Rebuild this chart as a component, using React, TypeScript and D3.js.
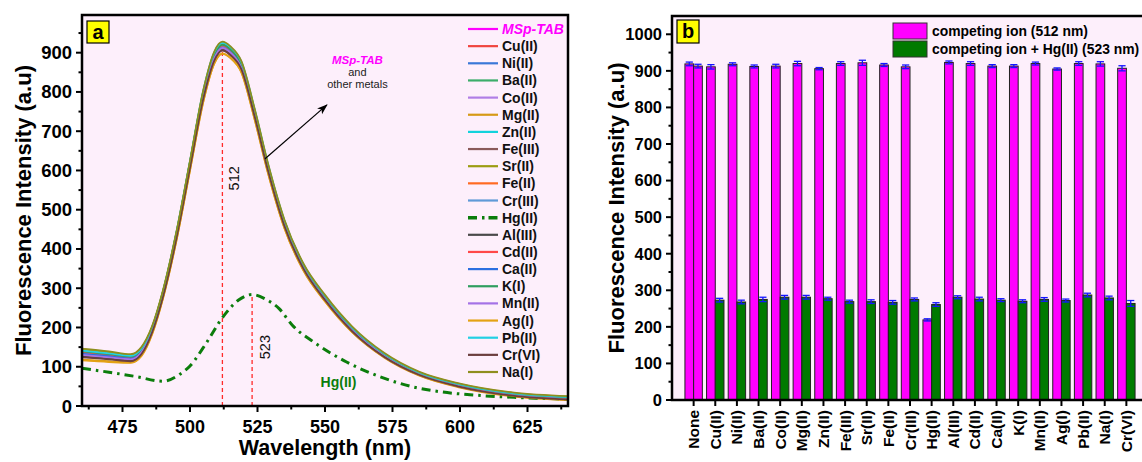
import React from 'react';
import * as d3 from 'd3';

// ---------- Panel (a): fluorescence spectra ----------
const wavelengths = [460, 470, 478, 482, 486, 490, 495, 500, 505, 509, 512, 515, 519, 524, 529, 535, 542, 550, 560, 572, 585, 600, 620, 640];
const mspTab = [136, 129, 123, 141, 197, 287, 437, 617, 797, 892, 918, 906, 869, 746, 606, 466, 356, 276, 196, 129, 81, 51, 28, 19];
const cuII = [132, 126, 120, 138, 193, 283, 433, 613, 792, 886, 912, 900, 862, 740, 600, 461, 352, 272, 193, 127, 80, 50, 27, 18];
const niII = [138, 131, 125, 143, 198, 288, 438, 618, 798, 890, 915, 903, 866, 744, 604, 465, 356, 276, 197, 130, 82, 52, 29, 20];
const baII = [140, 133, 127, 145, 200, 291, 441, 621, 802, 896, 922, 910, 872, 750, 609, 469, 359, 279, 199, 131, 83, 53, 30, 21];
const coII = [128, 122, 117, 135, 190, 281, 431, 611, 790, 884, 910, 898, 861, 739, 599, 460, 351, 271, 192, 126, 79, 49, 26, 17];
const mgII = [118, 114, 111, 129, 185, 275, 423, 600, 777, 872, 897, 886, 850, 728, 590, 452, 345, 266, 188, 123, 77, 47, 24, 15];
const znII = [142, 135, 128, 146, 201, 292, 443, 623, 805, 900, 925, 913, 876, 753, 612, 471, 360, 280, 200, 132, 84, 54, 31, 22];
const feIII = [125, 120, 115, 133, 189, 279, 429, 608, 786, 880, 905, 893, 857, 735, 596, 458, 350, 270, 191, 125, 79, 49, 26, 17];
const srII = [144, 137, 130, 148, 202, 293, 442, 622, 801, 895, 920, 908, 871, 749, 608, 468, 359, 279, 199, 132, 85, 56, 33, 24];
const feII = [127, 121, 116, 134, 191, 281, 430, 610, 788, 882, 908, 896, 859, 737, 598, 459, 350, 271, 192, 126, 79, 49, 26, 17];
const crIII = [134, 127, 121, 139, 195, 286, 436, 616, 795, 890, 915, 903, 866, 744, 604, 464, 355, 275, 195, 128, 81, 51, 28, 19];
const alIII = [126, 121, 116, 134, 191, 282, 432, 612, 791, 885, 910, 898, 861, 739, 600, 460, 352, 272, 193, 127, 80, 50, 27, 18];
const cdII = [137, 130, 124, 142, 197, 288, 438, 618, 797, 892, 918, 906, 869, 746, 606, 466, 356, 276, 196, 129, 81, 51, 28, 19];
const caII = [133, 127, 121, 139, 194, 285, 435, 615, 793, 887, 913, 901, 864, 742, 602, 463, 354, 274, 194, 128, 80, 50, 27, 18];
const kI = [139, 132, 126, 144, 199, 290, 440, 620, 800, 894, 920, 908, 870, 748, 607, 467, 358, 278, 198, 131, 83, 53, 30, 21];
const mnII = [130, 124, 119, 137, 192, 284, 434, 613, 792, 886, 912, 900, 862, 740, 600, 461, 352, 272, 193, 127, 80, 50, 27, 18];
const agI = [116, 112, 110, 127, 183, 274, 422, 601, 778, 873, 898, 887, 851, 729, 591, 453, 346, 267, 189, 124, 78, 48, 25, 16];
const pbII = [141, 134, 128, 146, 201, 292, 443, 623, 805, 901, 926, 914, 877, 754, 613, 472, 361, 281, 201, 133, 85, 55, 32, 23];
const crVI = [124, 119, 114, 132, 188, 278, 428, 607, 785, 880, 906, 894, 858, 736, 597, 458, 350, 270, 191, 125, 79, 49, 26, 17];
const naI = [146, 139, 132, 150, 204, 295, 445, 625, 807, 903, 928, 916, 879, 756, 615, 474, 363, 283, 203, 135, 87, 57, 34, 25];

const hgWavelengths = [460, 470, 480, 490, 496, 500, 506, 512, 518, 523, 528, 533, 538, 546, 558, 571, 583, 593, 605, 620, 640];
const hgII = [96, 86, 75, 63, 80, 102, 160, 225, 270, 284, 272, 248, 205, 162, 112, 73, 48, 36, 28, 22, 18];

const spectraLabels = ['MSp-TAB', 'Cu(II)', 'Ni(II)', 'Ba(II)', 'Co(II)', 'Mg(II)', 'Zn(II)', 'Fe(III)', 'Sr(II)', 'Fe(II)', 'Cr(III)', 'Hg(II)', 'Al(III)', 'Cd(II)', 'Ca(II)', 'K(I)', 'Mn(II)', 'Ag(I)', 'Pb(II)', 'Cr(VI)', 'Na(I)'];
const spectraValues = [mspTab, cuII, niII, baII, coII, mgII, znII, feIII, srII, feII, crIII, hgII, alIII, cdII, caII, kI, mnII, agI, pbII, crVI, naI];
const spectraColors = ['#ff00ff', '#f0453f', '#3a78d8', '#3cad6a', '#b07ee6', '#d69a16', '#12d2dc', '#8a5a5a', '#9c9c12', '#ff6a22', '#5f9ad8', '#0b7d0b', '#4a4a4a', '#ff4848', '#2c6fe0', '#2f9e5f', '#a472e6', '#e4a214', '#22d0e4', '#6b3e3e', '#8e8e1e'];

const peakWavelength = 512;
const hgPeakWavelength = 523;

// ---------- Panel (b): competing ions ----------
const ionCategories = ['None', 'Cu(II)', 'Ni(II)', 'Ba(II)', 'Co(II)', 'Mg(II)', 'Zn(II)', 'Fe(III)', 'Sr(II)', 'Fe(II)', 'Cr(III)', 'Hg(II)', 'Al(III)', 'Cd(II)', 'Ca(II)', 'K(I)', 'Mn(II)', 'Ag(I)', 'Pb(II)', 'Na(I)', 'Cr(VI)'];
const competingIon512 = [919, 911, 918, 912, 913, 920, 906, 920, 922, 916, 911, 219, 923, 920, 913, 913, 920, 905, 920, 919, 907];
const competingIonHg523 = [913, 273, 268, 275, 281, 281, 277, 269, 269, 267, 275, 261, 281, 276, 273, 270, 275, 272, 287, 279, 264];
const err512 = [5, 6, 4, 4, 5, 6, 3, 5, 7, 4, 5, 3, 4, 5, 4, 4, 4, 3, 5, 6, 7];
const errHg523 = [5, 5, 5, 6, 5, 5, 4, 4, 5, 5, 4, 5, 4, 5, 4, 4, 5, 4, 5, 5, 8];

const FONT = "'Liberation Sans', Arial, Helvetica, sans-serif";
const BG = '#fdeffb';

export default function App() {
  const W = 1142, H = 462;

  // Panel a geometry
  const A = { l: 82, r: 568, t: 15, b: 406 };
  const xA = d3.scaleLinear().domain([460, 640]).range([A.l, A.r]);
  const yA = d3.scaleLinear().domain([0, 996]).range([A.b, A.t]);
  const lineA = d3.line<[number, number]>()
    .x(d => xA(d[0]))
    .y(d => yA(d[1]))
    .curve(d3.curveMonotoneX);

  const series = spectraLabels.map((label, i) => {
    const isHg = label === 'Hg(II)';
    const xs = isHg ? hgWavelengths : wavelengths;
    const pts = xs.map((w, j) => [w, spectraValues[i][j]] as [number, number]);
    return { label, color: spectraColors[i], isHg, d: lineA(pts) || '' };
  });

  const mspPeak = d3.max(mspTab) as number;
  const hgPeak = d3.max(hgII) as number;

  const yTicksA = d3.range(0, 951, 50);
  const xTicksA = d3.range(462.5, 640, 12.5);

  // Panel b geometry
  const B = { l: 672, r: 1148, t: 16, b: 400 };
  const xB = d3.scaleLinear().domain([-1, ionCategories.length]).range([B.l, B.r]);
  const yB = d3.scaleLinear().domain([0, 1050]).range([B.b, B.t]);
  const barW = 8.7;
  const yTicksB = d3.range(0, 1050, 50);

  const legendRowA = (i: number) => 29 + i * 17.15;

  return (
    <svg width={W} height={H} viewBox={`0 0 ${W} ${H}`} style={{ position: 'absolute', left: 0, top: 0, background: '#fff' }} fontFamily={FONT}>
      <defs>
        <clipPath id="clipA"><rect x={A.l} y={A.t} width={A.r - A.l} height={A.b - A.t} /></clipPath>
        <marker id="arrowHead" viewBox="0 0 10 10" refX="9" refY="5" markerWidth="9" markerHeight="9" orient="auto">
          <path d="M0,1.5 L10,5 L0,8.5 L2.5,5 z" fill="#000" />
        </marker>
      </defs>

      {/* ================= Panel a ================= */}
      <rect x={A.l} y={A.t} width={A.r - A.l} height={A.b - A.t} fill={BG} />

      {/* reference dashed lines */}
      <line x1={xA(peakWavelength)} x2={xA(peakWavelength)} y1={yA(0)} y2={yA(mspPeak) + 4} stroke="#ff2a2a" strokeWidth={1.3} strokeDasharray="4,3" />
      <line x1={xA(hgPeakWavelength)} x2={xA(hgPeakWavelength)} y1={yA(0)} y2={yA(hgPeak)} stroke="#ff2a2a" strokeWidth={1.3} strokeDasharray="4,3" />

      <g clipPath="url(#clipA)">
        {series.map(s => (
          <path key={s.label} d={s.d} fill="none" stroke={s.color}
            strokeWidth={s.isHg ? 3 : 1.8}
            strokeDasharray={s.isHg ? '9,5,2.5,5' : undefined}
            strokeLinecap={s.isHg ? 'butt' : 'round'} />
        ))}
      </g>

      {/* annotations */}
      <text transform={`translate(${xA(peakWavelength) + 17},${yA(580)}) rotate(-90)`} textAnchor="middle" fontSize={14.5} fill="#111">512</text>
      <text transform={`translate(${xA(hgPeakWavelength) + 18},${yA(150)}) rotate(-90)`} textAnchor="middle" fontSize={14.5} fill="#111">523</text>
      <line x1={xA(527.8)} y1={yA(630)} x2={xA(550.7)} y2={yA(767)} stroke="#000" strokeWidth={1.2} markerEnd="url(#arrowHead)" />
      <text x={xA(562)} y={yA(882) + 4} textAnchor="middle" fontSize={11.5} fontWeight="bold" fontStyle="italic" fill="#ff00ff">MSp-TAB</text>
      <text x={xA(562)} y={yA(852) + 4} textAnchor="middle" fontSize={11} fill="#222">and</text>
      <text x={xA(562)} y={yA(820) + 4} textAnchor="middle" fontSize={11} fill="#222">other metals</text>
      <text x={xA(555)} y={yA(48)} textAnchor="middle" fontSize={14} fontWeight="bold" fill="#0b7d0b">Hg(II)</text>

      {/* legend a */}
      {series.map((s, i) => (
        <g key={'lg' + s.label}>
          <line x1={468} x2={498} y1={legendRowA(i)} y2={legendRowA(i)} stroke={s.color}
            strokeWidth={s.isHg ? 3.5 : 2.2} strokeDasharray={s.isHg ? '9,5,2.5,4' : undefined} />
          <text x={502} y={legendRowA(i) + 5} fontSize={14} fontWeight="bold"
            fontStyle={i === 0 ? 'italic' : 'normal'} fill={i === 0 ? '#ff00ff' : '#111'}>{s.label}</text>
        </g>
      ))}

      {/* frame a */}
      <rect x={A.l} y={A.t} width={A.r - A.l} height={A.b - A.t} fill="none" stroke="#000" strokeWidth={2.5} />

      {/* y axis a */}
      {yTicksA.map(v => {
        const major = v % 100 === 0;
        return (
          <g key={'ya' + v}>
            <line x1={A.l - (major ? 6 : 3.5)} x2={A.l} y1={yA(v)} y2={yA(v)} stroke="#000" strokeWidth={2} />
            {major && <text x={A.l - 10} y={yA(v) + 6.5} textAnchor="end" fontSize={18.5} fontWeight="bold" fill="#000">{v}</text>}
          </g>
        );
      })}
      {/* x axis a */}
      {xTicksA.map(v => {
        const major = v % 25 === 0;
        return (
          <g key={'xa' + v}>
            <line x1={xA(v)} x2={xA(v)} y1={A.b} y2={A.b + (major ? 6 : 3.5)} stroke="#000" strokeWidth={2} />
            {major && <text x={xA(v)} y={A.b + 26.5} textAnchor="middle" fontSize={18} fontWeight="bold" fill="#000">{v}</text>}
          </g>
        );
      })}
      <text x={(A.l + A.r) / 2} y={455} textAnchor="middle" fontSize={21.5} fontWeight="bold" fill="#000">Wavelength (nm)</text>
      <text transform={`translate(30.5,${(A.t + A.b) / 2}) rotate(-90)`} textAnchor="middle" fontSize={22} fontWeight="bold" fill="#000">Fluorescence Intensity (a.u)</text>

      {/* label box a */}
      <rect x={87} y={21} width={22} height={22} fill="#ffff00" stroke="#000" strokeWidth={1.2} />
      <text x={98} y={38.5} textAnchor="middle" fontSize={20} fontWeight="bold" fill="#000">a</text>

      {/* ================= Panel b ================= */}
      <rect x={B.l} y={B.t} width={B.r - B.l} height={B.b - B.t} fill={BG} />

      {ionCategories.map((c, i) => {
        const cx = xB(i);
        const v1 = competingIon512[i];
        const v2 = competingIonHg523[i];
        const c2 = c === 'None' ? '#ff00ff' : '#007a00';
        return (
          <g key={'bar' + c}>
            <rect x={cx - barW} y={yB(v1)} width={barW} height={yB(0) - yB(v1)} fill="#ff00ff" stroke="#222" strokeWidth={1} />
            <rect x={cx} y={yB(v2)} width={barW} height={yB(0) - yB(v2)} fill={c2} stroke="#222" strokeWidth={1} />
            {[[cx - barW / 2, v1, err512[i]], [cx + barW / 2, v2, errHg523[i]]].map(([ex, v, e], k) => (
              <g key={k} stroke="#1414ff" strokeWidth={1.3}>
                <line x1={ex} x2={ex} y1={yB(v + e)} y2={yB(v - e)} />
                <line x1={ex - 3.6} x2={ex + 3.6} y1={yB(v + e)} y2={yB(v + e)} />
                <line x1={ex - 3.6} x2={ex + 3.6} y1={yB(v - e)} y2={yB(v - e)} />
              </g>
            ))}
          </g>
        );
      })}

      {/* legend b */}
      <rect x={893} y={23} width={34} height={16} fill="#ff00ff" stroke="#333" strokeWidth={1} />
      <rect x={893} y={41} width={34} height={16} fill="#007a00" stroke="#333" strokeWidth={1} />
      <text x={932} y={36} fontSize={13.9} fontWeight="bold" fill="#000">competing ion (512 nm)</text>
      <text x={932} y={54} fontSize={13.9} fontWeight="bold" fill="#000">competing ion + Hg(II) (523 nm)</text>

      {/* frame b */}
      <rect x={B.l} y={B.t} width={B.r - B.l} height={B.b - B.t} fill="none" stroke="#000" strokeWidth={2.5} />

      {/* y axis b */}
      {yTicksB.map(v => {
        const major = v % 100 === 0;
        return (
          <g key={'yb' + v}>
            <line x1={B.l - (major ? 6 : 3.5)} x2={B.l} y1={yB(v)} y2={yB(v)} stroke="#000" strokeWidth={2} />
            {major && <text x={B.l - 10} y={yB(v) + 5.8} textAnchor="end" fontSize={16.5} fontWeight="bold" fill="#000">{v}</text>}
          </g>
        );
      })}
      {/* x axis b */}
      {ionCategories.map((c, i) => (
        <g key={'xb' + c}>
          <line x1={xB(i)} x2={xB(i)} y1={B.b} y2={B.b + 6} stroke="#000" strokeWidth={2} />
          <text transform={`translate(${xB(i) + 5.5},${B.b + 10}) rotate(-90)`} textAnchor="end" fontSize={15.5} fontWeight="bold" fill="#000">{c}</text>
        </g>
      ))}
      <text transform={`translate(623.5,${(B.t + B.b) / 2}) rotate(-90)`} textAnchor="middle" fontSize={22} fontWeight="bold" fill="#000">Fluorescence Intensity (a.u)</text>

      {/* label box b */}
      <rect x={677} y={20} width={22} height={23} fill="#ffff00" stroke="#000" strokeWidth={1.2} />
      <text x={688} y={38} textAnchor="middle" fontSize={20} fontWeight="bold" fill="#000">b</text>
    </svg>
  );
}
